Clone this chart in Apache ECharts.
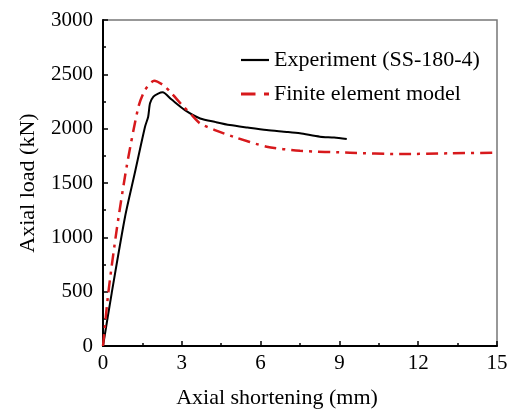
<!DOCTYPE html>
<html><head><meta charset="utf-8">
<script src="https://cdn.jsdelivr.net/npm/echarts@6/dist/echarts.min.js"></script>
<style>html,body{margin:0;padding:0;background:#fff}#c{width:514px;height:416px}</style>
</head><body><div id="c"></div>
<script>
const xTicks = [0, 3, 6, 9, 12, 15];
const yTicks = [0, 500, 1000, 1500, 2000, 2500, 3000];
const expName = 'Experiment (SS-180-4)';
const feName = 'Finite element model';
const expX = [0, 0.33, 0.84, 1.2, 1.6, 1.72, 1.79, 1.92, 2.1, 2.27, 2.6, 3.12, 3.7, 4.3, 4.83, 5.5, 6.23, 7.0, 7.5, 8.26, 8.8, 9.28];
const expY = [0, 485, 1190, 1580, 2018, 2110, 2233, 2294, 2322, 2334, 2270, 2171, 2094, 2060, 2033, 2010, 1987, 1970, 1957, 1926, 1918, 1904];
const feX = [0, 0.2, 0.52, 0.9, 1.35, 1.6, 1.95, 2.3, 2.61, 3.0, 3.38, 3.69, 4.26, 4.96, 6.23, 7.5, 9.4, 11.3, 13.2, 15];
const feY = [0, 485, 1067, 1650, 2202, 2355, 2441, 2400, 2325, 2220, 2125, 2049, 1987, 1926, 1834, 1797, 1779, 1766, 1773, 1779];

const font = 'Liberation Serif';
const chart = echarts.init(document.getElementById('c'), null, {renderer: 'canvas'});
chart.setOption({
  animation: false,
  backgroundColor: '#fff',
  grid: {left: 103, right: 17, top: 20, bottom: 70, show: true, borderColor: '#777', borderWidth: 1.5, backgroundColor: 'transparent'},
  legend: {
    orient: 'vertical', left: 236, top: 44, itemGap: 12, itemWidth: 28, itemHeight: 14,
    textStyle: {fontFamily: font, fontSize: 22, color: '#000'},
    data: [
      {name: expName, icon: 'path://M0,0 L28,0 L28,2.2 L0,2.2 Z'},
      {name: feName, icon: 'path://M0,0 L11.6,0 L11.6,2.4 L0,2.4 Z M18.4,0 L22.4,0 L22.4,2.4 L18.4,2.4 Z'}
    ]
  },
  xAxis: {
    type: 'value', min: 0, max: 15, interval: 3,
    name: 'Axial shortening (mm)', nameLocation: 'middle', nameGap: 41,
    nameTextStyle: {fontFamily: font, fontSize: 22, color: '#000', padding: [0, 46, 0, 0]},
    axisLine: {onZero: false, lineStyle: {color: '#000', width: 2}},
    axisTick: {inside: true, length: 5, lineStyle: {color: '#000', width: 1.5}},
    minorTick: {show: true, splitNumber: 2, length: 3, lineStyle: {color: '#000', width: 1.5}},
    axisLabel: {fontFamily: font, fontSize: 21, color: '#000', margin: 7,
      formatter: v => xTicks.includes(v) ? String(v) : ''},
    splitLine: {show: false}
  },
  yAxis: {
    type: 'value', min: 0, max: 3000, interval: 500,
    name: 'Axial load (kN)', nameLocation: 'middle', nameGap: 64,
    nameTextStyle: {fontFamily: font, fontSize: 22, color: '#000'},
    axisLine: {onZero: false, lineStyle: {color: '#000', width: 2}},
    axisTick: {inside: true, length: 5, lineStyle: {color: '#000', width: 1.5}},
    minorTick: {show: true, splitNumber: 2, length: 3, lineStyle: {color: '#000', width: 1.5}},
    axisLabel: {fontFamily: font, fontSize: 21, color: '#000', margin: 10,
      formatter: v => yTicks.includes(v) ? String(v) : ''},
    splitLine: {show: false}
  },
  series: [
    {name: expName, type: 'line', symbol: 'none', smooth: 0.25,
     data: expX.map((x, i) => [x, expY[i]]),
     lineStyle: {color: '#000', width: 2}, itemStyle: {color: '#000'}},
    {name: feName, type: 'line', symbol: 'none', smooth: 0.25,
     data: feX.map((x, i) => [x, feY[i]]),
     lineStyle: {color: '#d7191c', width: 2.5, type: [12, 6, 3, 6]}, itemStyle: {color: '#d7191c'}}
  ]
});
</script></body></html>
